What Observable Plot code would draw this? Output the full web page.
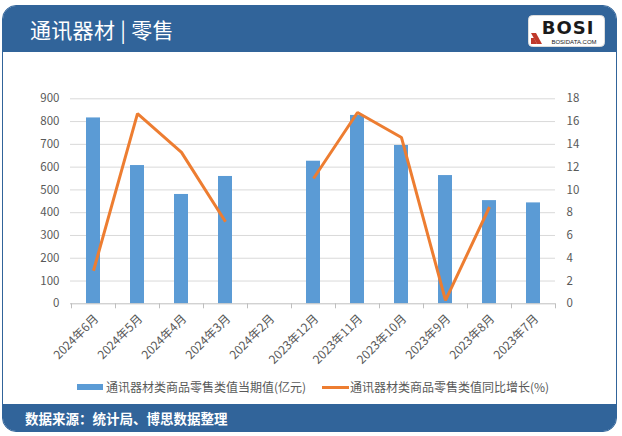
<!DOCTYPE html>
<html>
<head>
<meta charset="utf-8">
<script src="https://cdn.jsdelivr.net/npm/d3@7"></script>
<script src="https://cdn.jsdelivr.net/npm/@observablehq/plot@0.6"></script>
<style>
  html, body { margin: 0; padding: 0; background: #ffffff; }
  body { font-family: "Noto Sans CJK SC", "Noto Sans", sans-serif; }
  #wrap { position: relative; width: 622px; height: 436px; overflow: hidden; background: #fff; }
  #card { position: absolute; left: 2px; top: 5px; width: 615px; height: 427px; box-sizing: border-box;
          border: 1.5px solid #31649a; border-radius: 14px; overflow: hidden; background: #fff; }
  #header { position: absolute; left: 0; top: 0; right: 0; height: 46px; background: #31649a; }
  #title { position: absolute; left: 27px; top: 8px; color: #fff; font-size: 21px; font-weight: 400; letter-spacing: 0.3px; }
  #footer { position: absolute; left: 0; right: 0; bottom: 0; height: 27px; background: #31649a; }
  #source { position: absolute; left: 22px; top: 4px; color: #fff; font-size: 13.5px; font-weight: 700; }
  #logo { position: absolute; left: 525px; top: 9px; }
  #chart { position: absolute; left: 0; top: 52px; }
  #legend { position: absolute; left: 0; top: 378px; width: 622px; font-size: 12px; color: #595959; }
  .lg { position: absolute; top: 0; white-space: nowrap; }
</style>
</head>
<body>
<div id="wrap">
  <div id="card">
    <div id="header">
      <div id="title">通讯器材 | 零售</div>
      <svg id="logo" width="77" height="32" viewBox="0 0 77 32">
        <rect x="0.5" y="0.5" width="76" height="31" rx="4" fill="#fff" stroke="#ddd"/>
        <text x="40" y="19" text-anchor="middle" font-family="DejaVu Sans" font-weight="900" font-size="18" fill="#1a1a1a" letter-spacing="1">BOSI</text>
        <polygon points="3,18 8,18 14,29 9,29" fill="#c0392b"/>
        <polygon points="3,23 6,23 9,29 3,29" fill="#c0392b"/>
        <text x="46" y="28.5" text-anchor="middle" font-family="Liberation Sans" font-size="6" fill="#1a1a1a">BOSIDATA.COM</text>
      </svg>
    </div>
    <div id="footer"><div id="source">数据来源：统计局、博思数据整理</div></div>
  </div>
  <div id="chart"></div>
  <div id="legend">
    <div class="lg" style="left:77px;top:6px;width:26px;height:6px;background:#5b9bd5"></div>
    <div class="lg" style="left:106px;top:0">通讯器材类商品零售类值当期值(亿元)</div>
    <div class="lg" style="left:322px;top:8px;width:27px;height:3px;background:#ed7d31"></div>
    <div class="lg" style="left:350px;top:0">通讯器材类商品零售类值同比增长(%)</div>
  </div>
</div>
<script>
const categories = ["2024年6月","2024年5月","2024年4月","2024年3月","2024年2月","2023年12月","2023年11月","2023年10月","2023年9月","2023年8月","2023年7月"];
const retailValues = [816, 607, 480, 559, null, 626, 827, 695, 563, 453, 443];
const growthRates = [2.9, 16.7, 13.3, 7.2, null, 11.0, 16.8, 14.6, 0.3, 8.5, null];
const leftTicks = [0, 100, 200, 300, 400, 500, 600, 700, 800, 900];
const rightTicks = [0, 2, 4, 6, 8, 10, 12, 14, 16, 18];

const ratio = leftTicks[leftTicks.length - 1] / rightTicks[rightTicks.length - 1];
const data = categories.map((c, i) => ({month: c, value: retailValues[i], growth: growthRates[i]}));

const chart = Plot.plot({
  width: 622,
  height: 318,
  marginTop: 46.3,
  marginBottom: 66.7,
  marginLeft: 70,
  marginRight: 67,
  style: {fontFamily: "'Noto Sans CJK SC', 'Noto Sans', sans-serif", fontSize: "11.5px", color: "#595959", background: "transparent", overflow: "visible"},
  x: {domain: categories, padding: 0},
  y: {domain: [0, 900]},
  marks: [
    Plot.ruleY(leftTicks.filter(d => d > 0), {stroke: "#d9d9d9", strokeWidth: 1}),
    Plot.barY(data.filter(d => d.value != null), {x: "month", y: "value", fill: "#5b9bd5", insetLeft: 15, insetRight: 15}),
    Plot.ruleY([0], {stroke: "#bfbfbf", strokeWidth: 1}),
    Plot.ruleX(categories, {x: d => d, y1: 0, y2: -22, dx: -22, stroke: "#bfbfbf"}),
    Plot.ruleX([categories[categories.length - 1]], {x: d => d, y1: 0, y2: -22, dx: 22, stroke: "#bfbfbf"}),
    Plot.line(data, {x: "month", y: d => d.growth == null ? NaN : d.growth * ratio, stroke: "#ed7d31", strokeWidth: 3, strokeLinejoin: "miter", strokeLinecap: "butt"}),
    Plot.axisY(leftTicks, {anchor: "left", tickSize: 0, tickPadding: 11, label: null}),
    Plot.axisY(rightTicks.map(d => d * ratio), {anchor: "right", tickSize: 0, tickPadding: 11, label: null, tickFormat: d => d / ratio}),
    Plot.axisX({anchor: "bottom", tickSize: 0, tickRotate: -45, tickPadding: 13, dx: 3, label: null, fontSize: 12})
  ]
});
document.getElementById("chart").appendChild(chart);
</script>
</body>
</html>
